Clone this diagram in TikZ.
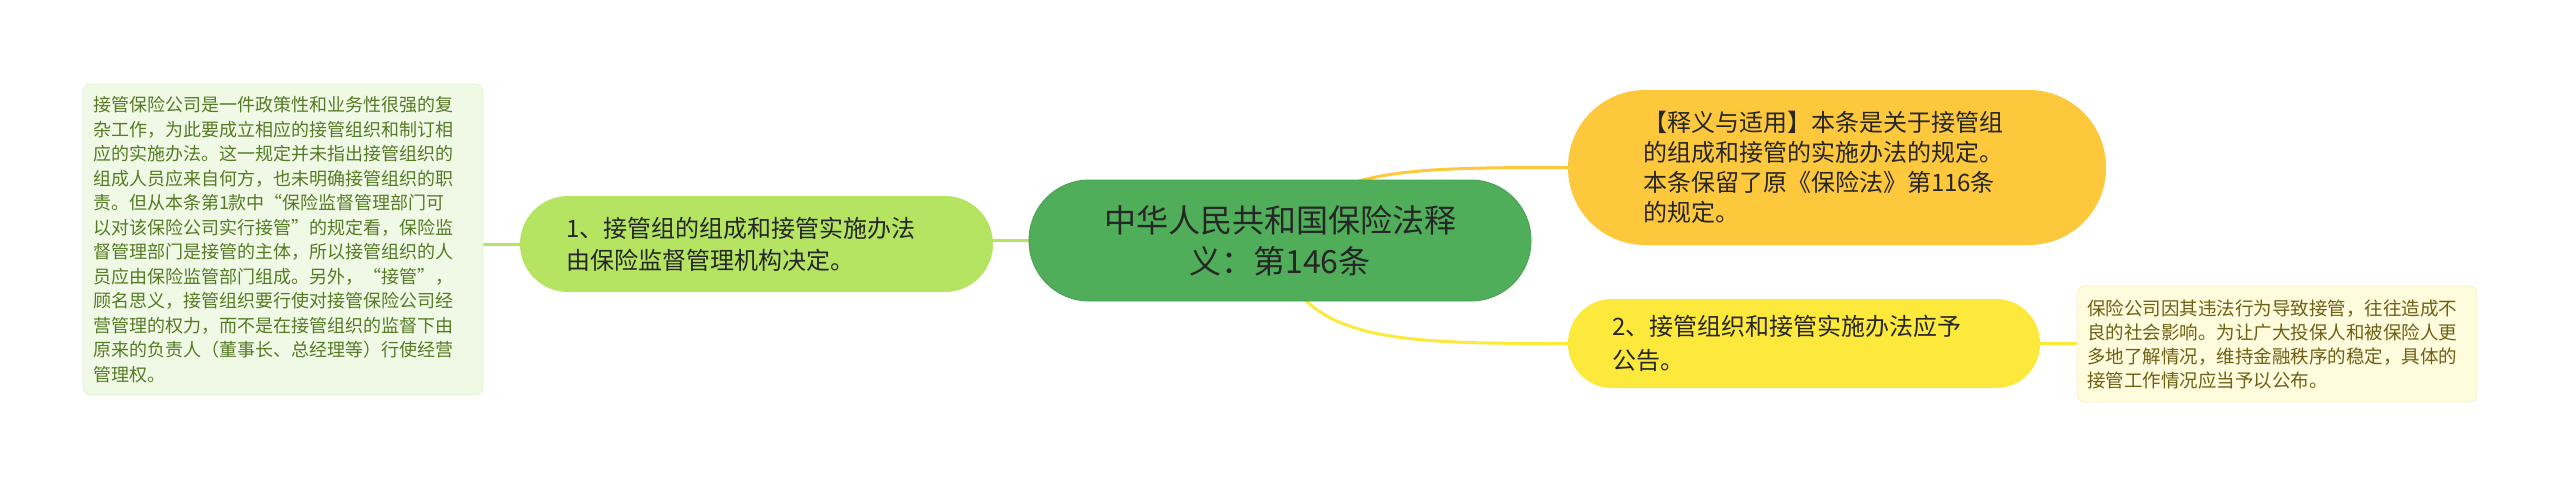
\documentclass[tikz,border=0pt]{standalone}
\usepackage{fontspec}
\setmainfont{Noto Sans CJK SC}
\usetikzlibrary{calc}
\pgfdeclarelayer{bg}
\pgfsetlayers{bg,main}
\definecolor{centralfill}{HTML}{50AE5A}
\definecolor{centraledge}{HTML}{46A050}
\definecolor{lgreen}{HTML}{B4E462}
\definecolor{leafgfill}{HTML}{F0F9E6}
\definecolor{leafgedge}{HTML}{E2F1D0}
\definecolor{leafgtext}{HTML}{567B25}
\definecolor{orangefill}{HTML}{FEC83D}
\definecolor{yellowfill}{HTML}{FDE93B}
\definecolor{leafyfill}{HTML}{FFFBDD}
\definecolor{leafyedge}{HTML}{F6F0C8}
\definecolor{leafytext}{HTML}{6E6116}
\definecolor{darktext}{HTML}{262626}
\tikzset{
  boxbase/.style={rectangle, inner ysep=0pt, anchor=center, align=left},
  pillnode/.style={boxbase, text=darktext},
  link/.style={line width=3pt},
}
\begin{document}
\begin{tikzpicture}[x=1pt,y=-1pt]
\useasboundingbox (0,0) rectangle (2560,485);

% central
\node[pillnode, fill=centralfill, draw=centraledge, line width=0.8pt,
      rounded corners=60pt, minimum width=502pt, minimum height=121pt,
      inner xsep=31pt, text width=440pt, align=center,
      font=\fontsize{32}{41}\selectfont] (central) at (1280,240.5)
  {中华人民共和国保险法释\\义：第146条};

% branch 1
\node[pillnode, fill=lgreen, rounded corners=48pt,
      minimum width=473pt, minimum height=96pt,
      inner xsep=46pt, text width=381pt,
      font=\fontsize{24}{32}\selectfont] (b1) at (756.5,244)
  {1、接管组的组成和接管实施办法\\由保险监督管理机构决定。};

% leaf of branch 1
\node[boxbase, fill=leafgfill, draw=leafgedge, line width=0.8pt, text=leafgtext,
      rounded corners=8pt, minimum width=400pt, minimum height=311pt,
      inner xsep=10pt, text width=380pt,
      font=\fontsize{18}{24.5}\selectfont] (l1) at (283,239.5)
  {接管保险公司是一件政策性和业务性很强的复\\
   杂工作，为此要成立相应的接管组织和制订相\\
   应的实施办法。这一规定并未指出接管组织的\\
   组成人员应来自何方，也未明确接管组织的职\\
   责。但从本条第1款中“保险监督管理部门可\\
   以对该保险公司实行接管”的规定看，保险监\\
   督管理部门是接管的主体，所以接管组织的人\\
   员应由保险监管部门组成。另外，“接管”，\\
   顾名思义，接管组织要行使对接管保险公司经\\
   营管理的权力，而不是在接管组织的监督下由\\
   原来的负责人（董事长、总经理等）行使经营\\
   管理权。};

% top right
\node[pillnode, fill=orangefill, rounded corners=77pt,
      minimum width=538pt, minimum height=155pt,
      inner xsep=75pt, text width=388pt,
      font=\fontsize{24}{30}\selectfont] (tr) at (1837,167.5)
  {【释义与适用】本条是关于接管组\\的组成和接管的实施办法的规定。\\本条保留了原《保险法》第116条\\的规定。};

% branch 2
\node[pillnode, fill=yellowfill, rounded corners=44pt,
      minimum width=472pt, minimum height=89pt,
      inner xsep=44pt, text width=384pt,
      font=\fontsize{24}{34}\selectfont] (b2) at (1804,343.5)
  {2、接管组织和接管实施办法应予\\公告。};

% leaf of branch 2
\node[boxbase, fill=leafyfill, draw=leafyedge, line width=0.8pt, text=leafytext,
      rounded corners=8pt, minimum width=400pt, minimum height=116pt,
      inner xsep=10pt, text width=380pt,
      font=\fontsize{18.5}{24}\selectfont] (l2) at (2277,344)
  {保险公司因其违法行为导致接管，往往造成不\\
   良的社会影响。为让广大投保人和被保险人更\\
   多地了解情况，维持金融秩序的稳定，具体的\\
   接管工作情况应当予以公布。};

\begin{pgfonlayer}{bg}
  \draw[link, draw=lgreen] (central.center) -- (central.center -| b1.center) -- (b1.center);
  \draw[link, draw=lgreen] (b1.west) -- (b1.west -| l1.east);
  \draw[link, draw=orangefill] (central.center)
     .. controls ($(central.center)+(40,-72)$) and ($(tr.west)+(-168,0)$) .. (tr.west);
  \draw[link, draw=yellowfill] (central.center)
     .. controls ($(central.center)+(10,103)$) and ($(b2.west)+(-168,0)$) .. (b2.west);
  \draw[link, draw=yellowfill] (b2.east) -- (b2.east -| l2.west);
\end{pgfonlayer}
\end{tikzpicture}
\end{document}
